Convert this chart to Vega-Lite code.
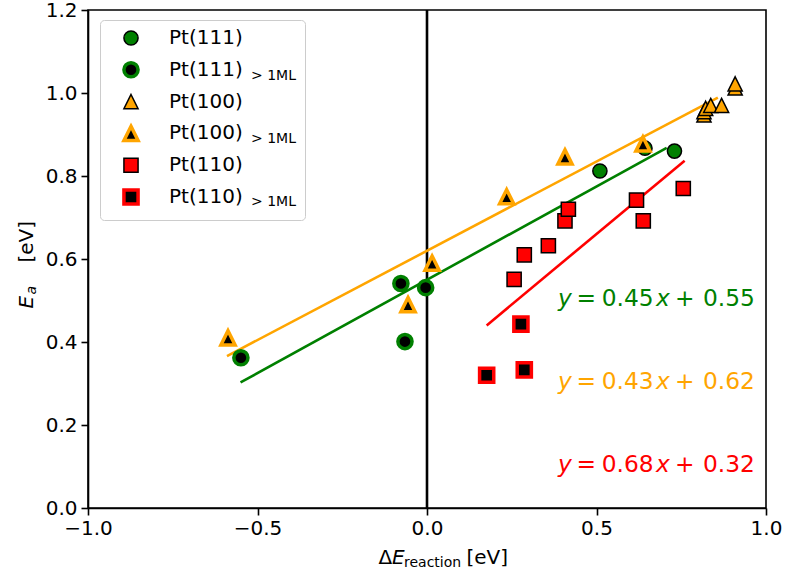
{
  "$schema": "https://vega.github.io/schema/vega-lite/v6.json",
  "width": 678,
  "height": 498,
  "autosize": {"type": "none"},
  "padding": {"left": 88, "top": 10, "right": 21, "bottom": 64},
  "title": {"text": "reaction", "orient": "bottom", "anchor": "start", "frame": "group", "fontSize": 14, "fontWeight": "normal", "color": "black", "dx": 316, "offset": 0, "baseline": "alphabetic"},
  "resolve": {"axis": {"x": "independent", "y": "independent"}},
  "datasets": {
    "points": [
      {"series": "Pt(111)", "x": 0.51, "y": 0.812},
      {"series": "Pt(111)", "x": 0.643, "y": 0.867},
      {"series": "Pt(111)", "x": 0.73, "y": 0.86},
      {"series": "Pt(111) > 1ML", "x": -0.549, "y": 0.362},
      {"series": "Pt(111) > 1ML", "x": -0.077, "y": 0.541},
      {"series": "Pt(111) > 1ML", "x": -0.065, "y": 0.401},
      {"series": "Pt(111) > 1ML", "x": -0.004, "y": 0.531},
      {"series": "Pt(100)", "x": 0.817, "y": 0.947},
      {"series": "Pt(100)", "x": 0.817, "y": 0.955},
      {"series": "Pt(100)", "x": 0.822, "y": 0.963},
      {"series": "Pt(100)", "x": 0.837, "y": 0.97},
      {"series": "Pt(100)", "x": 0.869, "y": 0.97},
      {"series": "Pt(100)", "x": 0.909, "y": 1.012},
      {"series": "Pt(100)", "x": 0.909, "y": 1.022},
      {"series": "Pt(100) > 1ML", "x": -0.587, "y": 0.41},
      {"series": "Pt(100) > 1ML", "x": -0.056, "y": 0.49},
      {"series": "Pt(100) > 1ML", "x": 0.015, "y": 0.59},
      {"series": "Pt(100) > 1ML", "x": 0.235, "y": 0.75},
      {"series": "Pt(100) > 1ML", "x": 0.407, "y": 0.846},
      {"series": "Pt(100) > 1ML", "x": 0.637, "y": 0.877},
      {"series": "Pt(110)", "x": 0.257, "y": 0.551},
      {"series": "Pt(110)", "x": 0.287, "y": 0.61},
      {"series": "Pt(110)", "x": 0.358, "y": 0.632},
      {"series": "Pt(110)", "x": 0.407, "y": 0.692},
      {"series": "Pt(110)", "x": 0.417, "y": 0.72},
      {"series": "Pt(110)", "x": 0.618, "y": 0.742},
      {"series": "Pt(110)", "x": 0.638, "y": 0.692},
      {"series": "Pt(110)", "x": 0.756, "y": 0.77},
      {"series": "Pt(110) > 1ML", "x": 0.176, "y": 0.32},
      {"series": "Pt(110) > 1ML", "x": 0.277, "y": 0.443},
      {"series": "Pt(110) > 1ML", "x": 0.287, "y": 0.333}
    ],
    "fits": [
      {"surface": "Pt(111)", "x": -0.55, "y": 0.3025},
      {"surface": "Pt(111)", "x": 0.707, "y": 0.868},
      {"surface": "Pt(100)", "x": -0.59, "y": 0.366},
      {"surface": "Pt(100)", "x": 0.858, "y": 0.989},
      {"surface": "Pt(110)", "x": 0.176, "y": 0.44},
      {"surface": "Pt(110)", "x": 0.76, "y": 0.837}
    ],
    "zero": [{"x": 0}],
    "eqs": [
      {"surface": "Pt(111)", "x": 0.3864, "y": 0.4867, "slope": "0.45", "intercept": "0.55"},
      {"surface": "Pt(100)", "x": 0.3864, "y": 0.2867, "slope": "0.43", "intercept": "0.62"},
      {"surface": "Pt(110)", "x": 0.3864, "y": 0.0875, "slope": "0.68", "intercept": "0.32"}
    ]
  },
  "layer": [
    {
      "data": {"name": "zero"},
      "mark": {"type": "rule", "color": "black", "strokeWidth": 2.6},
      "encoding": {
        "x": {"field": "x", "type": "quantitative", "scale": {"domain": [-1, 1], "nice": false, "zero": false},
          "axis": {"orient": "bottom", "title": "\u0394", "titleX": 290, "titleY": 55, "titleAlign": "left", "titleBaseline": "alphabetic", "labels": false, "ticks": false, "domain": false, "grid": false}}
      }
    },
    {
      "data": {"name": "fits"},
      "mark": {"type": "line", "strokeWidth": 2.6},
      "encoding": {
        "x": {"field": "x", "type": "quantitative", "scale": {"domain": [-1, 1], "nice": false, "zero": false},
          "axis": {"orient": "bottom", "title": "E", "titleFontStyle": "italic", "titleX": 303.5, "titleY": 55, "titleAlign": "left", "titleBaseline": "alphabetic", "labels": false, "ticks": false, "domain": false, "grid": false}},
        "y": {"field": "y", "type": "quantitative", "scale": {"domain": [0, 1.2], "nice": false, "zero": false},
          "axis": {"orient": "left", "title": "E", "titleFontStyle": "italic", "titleX": -56, "titleY": 298, "titleAngle": -90, "titleAlign": "left", "titleBaseline": "alphabetic", "labels": false, "ticks": false, "domain": false, "grid": false}},
        "color": {"field": "surface", "type": "nominal", "scale": {"domain": ["Pt(111)", "Pt(100)", "Pt(110)"], "range": ["#008000", "#FFA500", "#FF0000"]}, "legend": null}
      }
    },
    {
      "data": {"name": "points"},
      "mark": {"type": "point", "filled": true, "opacity": 1},
      "encoding": {
        "x": {"field": "x", "type": "quantitative", "scale": {"domain": [-1, 1], "nice": false, "zero": false},
          "axis": {"orient": "bottom", "title": "[eV]", "values": [-1, -0.5, 0, 0.5, 1], "format": ".1f", "titleX": 378, "titleY": 55, "titleAlign": "left", "titleBaseline": "alphabetic", "labelPadding": 3}},
        "y": {"field": "y", "type": "quantitative", "scale": {"domain": [0, 1.2], "nice": false, "zero": false},
          "axis": {"orient": "left", "title": "[eV]", "values": [0, 0.2, 0.4, 0.6, 0.8, 1, 1.2], "format": ".1f", "titleX": -56, "titleY": 252, "titleAngle": -90, "titleAlign": "left", "titleBaseline": "alphabetic", "labelPadding": 4}},
        "shape": {"field": "series", "type": "nominal",
          "scale": {"domain": ["Pt(111)", "Pt(111) > 1ML", "Pt(100)", "Pt(100) > 1ML", "Pt(110)", "Pt(110) > 1ML"], "range": ["circle", "circle", "M0,-1L1,1L-1,1Z", "M0,-1L1,1L-1,1Z", "square", "square"]},
          "legend": {"orient": "none", "legendX": 12, "legendY": 10, "title": "\u2800\u2800\u2800\u2800", "titleOrient": "right", "titleFontSize": 17, "titleOpacity": 0, "titlePadding": 0, "padding": 8, "symbolOffset": 13, "fillColor": "rgba(255,255,255,0.8)", "strokeColor": "#cccccc", "cornerRadius": 4, "symbolSize": 200, "labelFontSize": 20, "labelColor": "black", "labelOffset": 28, "rowPadding": 5.8, "labelLimit": 0, "zindex": 0,
            "labelExpr": "indexof(datum.label, ' >') > 0 ? substring(datum.label, 0, indexof(datum.label, ' >')) : datum.label"}},
        "fill": {"field": "series", "type": "nominal",
          "scale": {"domain": ["Pt(111)", "Pt(111) > 1ML", "Pt(100)", "Pt(100) > 1ML", "Pt(110)", "Pt(110) > 1ML"], "range": ["#008000", "#000000", "#FFA500", "#000000", "#FF0000", "#000000"]},
          "legend": {"orient": "none", "legendX": 12, "legendY": 10, "title": "\u2800\u2800\u2800\u2800", "titleOrient": "right", "titleFontSize": 17, "titleOpacity": 0, "titlePadding": 0, "padding": 8, "symbolOffset": 13, "fillColor": "rgba(255,255,255,0.8)", "strokeColor": "#cccccc", "cornerRadius": 4, "symbolSize": 200, "labelFontSize": 20, "labelColor": "black", "labelOffset": 28, "rowPadding": 5.8, "labelLimit": 0, "zindex": 0,
            "labelExpr": "indexof(datum.label, ' >') > 0 ? substring(datum.label, 0, indexof(datum.label, ' >')) : datum.label"}},
        "stroke": {"field": "series", "type": "nominal",
          "scale": {"domain": ["Pt(111)", "Pt(111) > 1ML", "Pt(100)", "Pt(100) > 1ML", "Pt(110)", "Pt(110) > 1ML"], "range": ["#000000", "#008000", "#000000", "#FFA500", "#000000", "#FF0000"]},
          "legend": {"orient": "none", "legendX": 12, "legendY": 10, "title": "\u2800\u2800\u2800\u2800", "titleOrient": "right", "titleFontSize": 17, "titleOpacity": 0, "titlePadding": 0, "padding": 8, "symbolOffset": 13, "fillColor": "rgba(255,255,255,0.8)", "strokeColor": "#cccccc", "cornerRadius": 4, "symbolSize": 200, "labelFontSize": 20, "labelColor": "black", "labelOffset": 28, "rowPadding": 5.8, "labelLimit": 0, "zindex": 0,
            "labelExpr": "indexof(datum.label, ' >') > 0 ? substring(datum.label, 0, indexof(datum.label, ' >')) : datum.label"}},
        "strokeWidth": {"field": "series", "type": "nominal",
          "scale": {"type": "ordinal", "domain": ["Pt(111)", "Pt(111) > 1ML", "Pt(100)", "Pt(100) > 1ML", "Pt(110)", "Pt(110) > 1ML"], "range": [1.5, 3.5, 1.5, 3.5, 1.5, 3.5]},
          "legend": {"orient": "none", "legendX": 12, "legendY": 10, "title": "\u2800\u2800\u2800\u2800", "titleOrient": "right", "titleFontSize": 17, "titleOpacity": 0, "titlePadding": 0, "padding": 8, "symbolOffset": 13, "fillColor": "rgba(255,255,255,0.8)", "strokeColor": "#cccccc", "cornerRadius": 4, "symbolSize": 200, "labelFontSize": 20, "labelColor": "black", "labelOffset": 28, "rowPadding": 5.8, "labelLimit": 0, "zindex": 0,
            "labelExpr": "indexof(datum.label, ' >') > 0 ? substring(datum.label, 0, indexof(datum.label, ' >')) : datum.label"}},
        "size": {"field": "series", "type": "nominal",
          "scale": {"type": "ordinal", "domain": ["Pt(111)", "Pt(111) > 1ML", "Pt(100)", "Pt(100) > 1ML", "Pt(110)", "Pt(110) > 1ML", "zz"], "range": [200, 200, 200, 200, 200, 200, 200]},
          "legend": {"orient": "none", "legendX": 147, "legendY": 26.5, "title": null, "padding": 0, "symbolOpacity": 0, "labelFontSize": 14, "labelColor": "black", "labelOffset": 0, "rowPadding": 15.5, "labelLimit": 0, "zindex": 1,
            "labelExpr": "indexof(datum.label, '1ML') >= 0 ? '> 1ML' : ''"}}
      }
    },
    {
      "data": {"name": "eqs"},
      "mark": {"type": "text", "text": "y", "fontStyle": "italic", "fontSize": 23.3, "align": "left", "baseline": "alphabetic", "dx": 0},
      "encoding": {
        "x": {"field": "x", "type": "quantitative", "axis": null},
        "y": {"field": "y", "type": "quantitative",
          "axis": {"orient": "left", "title": "a", "titleFontStyle": "italic", "titleFontSize": 14, "titleX": -53, "titleY": 284, "titleAngle": -90, "titleAlign": "left", "titleBaseline": "alphabetic", "labels": false, "ticks": false, "domain": false, "grid": false}},
        "color": {"field": "surface", "type": "nominal", "legend": null}
      }
    },
    {
      "data": {"name": "eqs"},
      "mark": {"type": "text", "text": "=", "fontSize": 23.3, "align": "left", "baseline": "alphabetic", "dx": 18.6},
      "encoding": {
        "x": {"field": "x", "type": "quantitative", "axis": null},
        "y": {"field": "y", "type": "quantitative", "axis": null},
        "color": {"field": "surface", "type": "nominal", "legend": null}
      }
    },
    {
      "data": {"name": "eqs"},
      "mark": {"type": "text", "fontSize": 23.3, "align": "left", "baseline": "alphabetic", "dx": 43.7},
      "encoding": {
        "x": {"field": "x", "type": "quantitative", "axis": null},
        "y": {"field": "y", "type": "quantitative", "axis": null},
        "text": {"field": "slope", "type": "nominal"},
        "color": {"field": "surface", "type": "nominal", "legend": null}
      }
    },
    {
      "data": {"name": "eqs"},
      "mark": {"type": "text", "text": "x", "fontStyle": "italic", "fontSize": 23.3, "align": "left", "baseline": "alphabetic", "dx": 98},
      "encoding": {
        "x": {"field": "x", "type": "quantitative", "axis": null},
        "y": {"field": "y", "type": "quantitative", "axis": null},
        "color": {"field": "surface", "type": "nominal", "legend": null}
      }
    },
    {
      "data": {"name": "eqs"},
      "mark": {"type": "text", "text": "+", "fontSize": 23.3, "align": "left", "baseline": "alphabetic", "dx": 117},
      "encoding": {
        "x": {"field": "x", "type": "quantitative", "axis": null},
        "y": {"field": "y", "type": "quantitative", "axis": null},
        "color": {"field": "surface", "type": "nominal", "legend": null}
      }
    },
    {
      "data": {"name": "eqs"},
      "mark": {"type": "text", "fontSize": 23.3, "align": "left", "baseline": "alphabetic", "dx": 145},
      "encoding": {
        "x": {"field": "x", "type": "quantitative", "axis": null},
        "y": {"field": "y", "type": "quantitative", "axis": null},
        "text": {"field": "intercept", "type": "nominal"},
        "color": {"field": "surface", "type": "nominal", "legend": null}
      }
    }
  ],
  "config": {
    "font": "DejaVu Sans",
    "view": {"stroke": "black", "strokeWidth": 1.6},
    "axis": {"labelFontSize": 20, "labelColor": "black", "labelFont": "DejaVu Sans", "titleFont": "DejaVu Sans", "titleFontSize": 20, "titleFontWeight": "normal", "titleColor": "black", "tickColor": "black", "tickSize": 7, "tickWidth": 1.6, "domainColor": "black", "domainWidth": 1.6, "gridColor": "#b0b0b0", "gridWidth": 1.6, "labelFlush": false, "labelOverlap": false},
    "legend": {"labelFont": "DejaVu Sans", "titleFont": "DejaVu Sans"},
    "title": {"font": "DejaVu Sans"}
  }
}
